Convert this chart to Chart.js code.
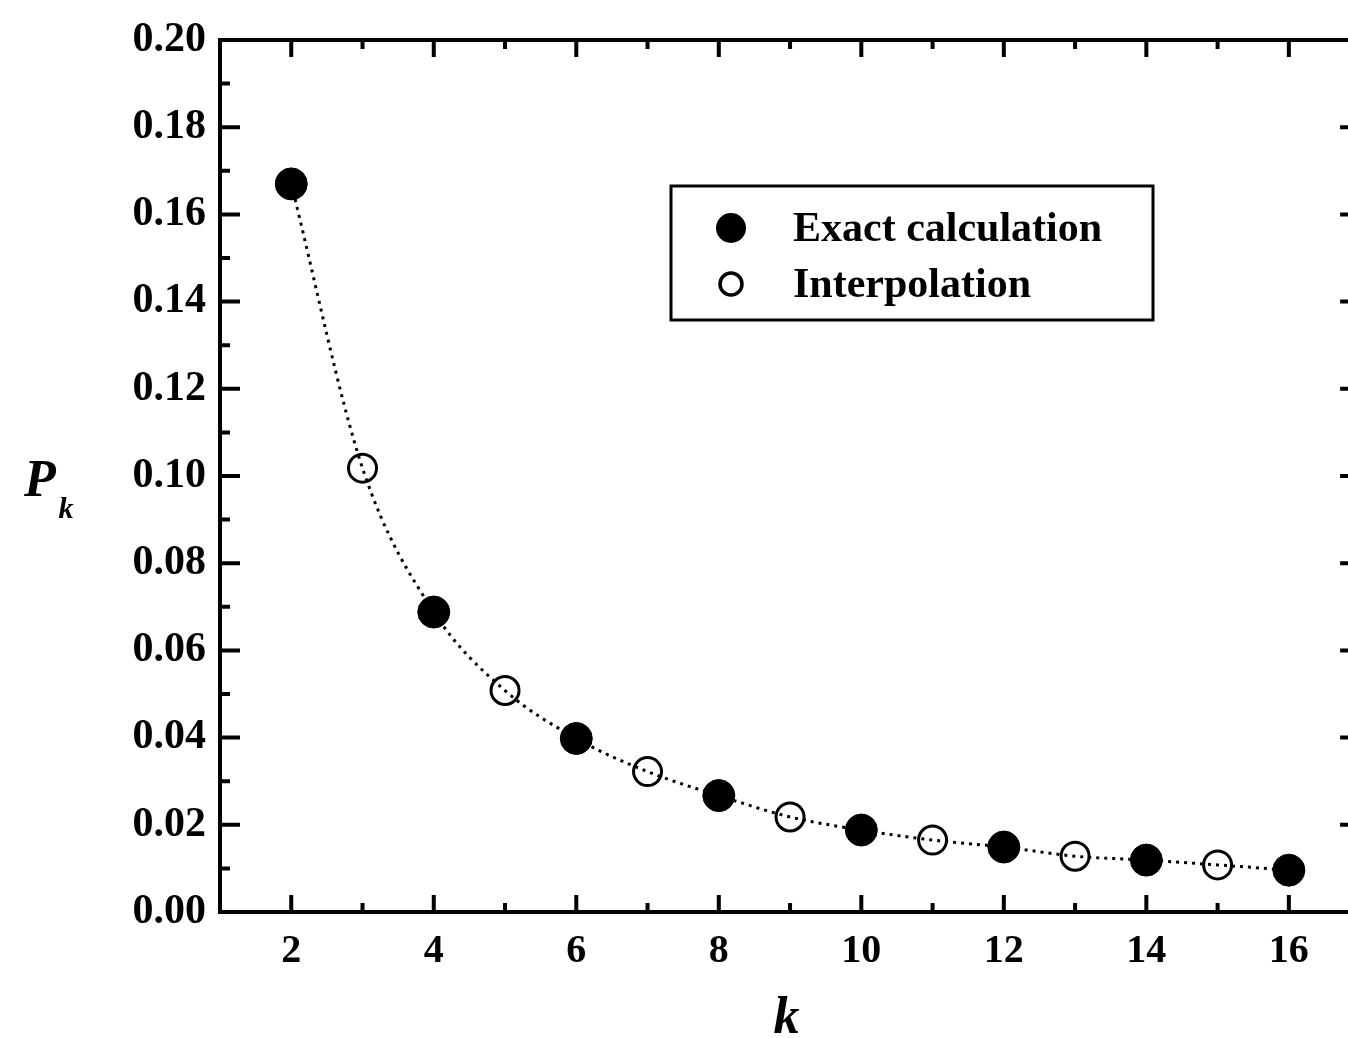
<!DOCTYPE html>
<html>
<head>
<meta charset="utf-8">
<script src="https://cdn.jsdelivr.net/npm/chart.js@4"></script>
<style>
  html, body { margin: 0; padding: 0; background: #fff; overflow: hidden; }
  #chart { position: absolute; left: 0; top: 0; }
</style>
</head>
<body>
<canvas id="chart" width="1348" height="1038"></canvas>
<script>
const exactK = [2, 4, 6, 8, 10, 12, 14, 16]
const exactP = [0.167, 0.0688, 0.0398, 0.0267, 0.0188, 0.0149, 0.0119, 0.0096]
const interpK = [3, 5, 7, 9, 11, 13, 15]
const interpP = [0.1018, 0.0508, 0.0322, 0.0218, 0.0165, 0.0128, 0.0108]
const xMajor = [2, 4, 6, 8, 10, 12, 14, 16]
const xMinor = [1, 3, 5, 7, 9, 11, 13, 15]
const yMajor = [0, 0.02, 0.04, 0.06, 0.08, 0.10, 0.12, 0.14, 0.16, 0.18, 0.20]
const yMinor = [0.01, 0.03, 0.05, 0.07, 0.09, 0.11, 0.13, 0.15, 0.17, 0.19]
// the frame closes at k = 17, just past the right edge of the picture
const xFrameEnd = 17

const FONT = '"Liberation Serif", "Times New Roman", serif'

const toPoints = (ks, ps) => ks.map((k, i) => ({ x: k, y: ps[i] }))
const allPoints = toPoints(exactK, exactP).concat(toPoints(interpK, interpP)).sort((a, b) => a.x - b.x)

// frame, inward ticks, axis titles and legend
const decor = {
  id: 'decor',
  afterDraw(chart) {
    const ctx = chart.ctx
    const { left, top, bottom } = chart.chartArea
    const xs = chart.scales.x
    const ys = chart.scales.y
    const right = xs.getPixelForValue(xFrameEnd)
    ctx.save()
    ctx.strokeStyle = '#000'
    ctx.lineWidth = 4
    ctx.strokeRect(left, top, right - left, bottom - top)

    ctx.beginPath()
    const tickX = (vals, len) => vals.forEach(v => {
      const px = xs.getPixelForValue(v)
      ctx.moveTo(px, bottom); ctx.lineTo(px, bottom - len)
      ctx.moveTo(px, top); ctx.lineTo(px, top + len)
    })
    const tickY = (vals, len) => vals.forEach(v => {
      const py = ys.getPixelForValue(v)
      ctx.moveTo(left, py); ctx.lineTo(left + len, py)
      ctx.moveTo(right, py); ctx.lineTo(right - len, py)
    })
    tickX(xMajor, 17)
    tickX(xMinor, 9)
    tickY(yMajor, 20)
    tickY(yMinor, 10)
    ctx.stroke()

    // axis titles
    ctx.fillStyle = '#000'
    ctx.textAlign = 'center'
    ctx.textBaseline = 'alphabetic'
    ctx.font = 'italic bold 52px ' + FONT
    ctx.fillText('k', xs.getPixelForValue(8.95), 1033)
    ctx.fillText('P', 40, 496)
    ctx.font = 'italic bold 30px ' + FONT
    ctx.fillText('k', 66, 518)

    // legend
    const bx = 671, by = 186, bw = 482, bh = 134
    ctx.fillStyle = '#fff'
    ctx.fillRect(bx, by, bw, bh)
    ctx.lineWidth = 3
    ctx.strokeRect(bx, by, bw, bh)
    ctx.textAlign = 'left'
    ctx.textBaseline = 'middle'
    ctx.font = 'bold 42px ' + FONT
    ctx.fillStyle = '#000'
    const items = chart.data.datasets.filter(d => d.inLegend)
    items.forEach((d, i) => {
      const cy = by + 42 + i * 56
      ctx.beginPath()
      if (d.filled) {
        ctx.arc(731, cy, 15, 0, Math.PI * 2)
        ctx.fill()
      } else {
        ctx.lineWidth = 3.5
        ctx.arc(731, cy, 11, 0, Math.PI * 2)
        ctx.stroke()
      }
      ctx.fillText(d.label, 793, cy + 2)
    })
    ctx.restore()
  }
}

new Chart(document.getElementById('chart'), {
  type: 'scatter',
  data: {
    datasets: [
      {
        label: 'curve',
        data: allPoints,
        showLine: true,
        borderColor: '#000',
        borderWidth: 3,
        borderDash: [3, 5],
        cubicInterpolationMode: 'monotone',
        pointRadius: 0,
        order: 3
      },
      {
        label: 'Exact calculation',
        inLegend: true,
        filled: true,
        data: toPoints(exactK, exactP),
        pointRadius: 16,
        pointBackgroundColor: '#000',
        pointBorderColor: '#000',
        pointBorderWidth: 1,
        order: 1
      },
      {
        label: 'Interpolation',
        inLegend: true,
        filled: false,
        data: toPoints(interpK, interpP),
        pointRadius: 14,
        pointBackgroundColor: 'rgba(255,255,255,0)',
        pointBorderColor: '#000',
        pointBorderWidth: 3,
        order: 2
      }
    ]
  },
  options: {
    responsive: false,
    animation: false,
    layout: { autoPadding: false, padding: { top: 40, right: 0, left: 0, bottom: 0 } },
    plugins: { legend: { display: false }, tooltip: { enabled: false } },
    scales: {
      x: {
        type: 'linear',
        min: 1,
        max: 16.83,
        afterFit: s => {
          s.height = 126
          s.paddingLeft = 0
          s.paddingRight = 0
        },
        grid: { display: false, drawTicks: false },
        border: { display: false },
        ticks: {
          padding: 16,
          color: '#000',
          font: { family: FONT, size: 40, weight: 'bold' },
          callback: v => String(v)
        },
        afterBuildTicks: s => { s.ticks = xMajor.map(v => ({ value: v })) }
      },
      y: {
        type: 'linear',
        min: 0,
        max: 0.2,
        afterFit: s => {
          s.width = 220
          s.paddingTop = 0
          s.paddingBottom = 0
        },
        grid: { display: false, drawTicks: false },
        border: { display: false },
        ticks: {
          padding: 14,
          color: '#000',
          font: { family: FONT, size: 42, weight: 'bold' },
          callback: v => v.toFixed(2)
        },
        afterBuildTicks: s => { s.ticks = yMajor.map(v => ({ value: v })) }
      }
    }
  },
  plugins: [decor]
})
</script>
</body>
</html>
